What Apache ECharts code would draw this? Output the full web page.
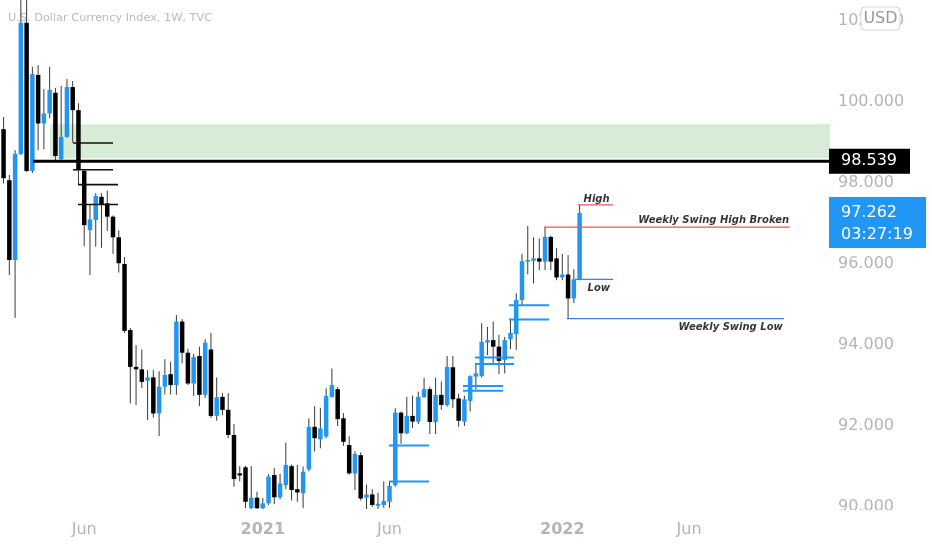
<!DOCTYPE html>
<html><head><meta charset="utf-8">
<script src="https://cdn.jsdelivr.net/npm/echarts@6/dist/echarts.min.js"></script>
<style>html,body{margin:0;padding:0;background:#fff}#c{width:932px;height:550px}</style>
</head><body><div id="c"></div>
<script>
// ---- data ----
const firstWeek = '2020-02-24';
const timeTicks = [['2020-06-01','Jun',false],['2021-01-04','2021',true],['2021-06-07','Jun',false],['2022-01-03','2022',true],['2022-06-06','Jun',false]];
const priceTicks = [90,92,94,96,98,100,102];
const open = [99.33,98.07,96.10,98.72,101.96,98.30,100.67,99.47,99.72,100.23,
98.59,99.14,100.37,99.80,98.30,96.84,97.09,97.66,97.50,97.17,
96.66,96.00,94.37,93.46,93.40,93.12,93.20,92.31,92.97,93.28,
93.01,94.58,93.81,93.05,93.73,92.77,93.89,92.25,92.72,92.40,
91.78,90.83,90.98,89.97,90.23,89.97,90.09,90.79,90.24,90.54,
91.01,90.44,90.34,90.93,91.98,91.67,91.74,92.72,92.91,92.19,
91.53,90.83,91.28,90.23,90.31,90.03,90.05,90.13,90.54,92.33,
91.82,92.25,92.11,92.71,92.91,92.10,92.77,92.52,93.45,92.68,
92.11,92.62,93.22,93.23,94.06,94.12,93.96,93.63,94.14,94.27,
95.11,96.06,96.08,96.14,96.06,96.67,96.14,95.67,95.74,95.15,
95.62];
const close = [98.12,96.10,98.72,101.96,98.30,100.69,99.47,99.72,100.30,98.67,
99.14,100.37,99.80,98.32,96.96,97.10,97.68,97.46,97.17,96.66,
96.02,94.35,93.46,93.40,93.09,93.20,92.31,92.97,93.26,93.01,
94.58,93.81,93.05,93.70,92.77,94.06,92.25,92.71,92.40,91.78,
90.69,90.78,90.13,90.23,89.97,90.09,90.75,90.24,90.58,91.04,
90.42,90.36,90.87,91.98,91.70,91.94,92.74,93.01,92.17,91.61,
90.83,91.31,90.21,90.31,90.05,90.08,90.15,90.52,92.33,91.82,
92.25,92.11,92.72,92.91,92.10,92.77,92.52,93.46,92.66,92.13,
92.66,93.23,93.30,94.08,94.12,93.96,93.61,94.12,94.30,95.11,
96.07,96.10,96.14,96.06,96.67,96.06,95.67,95.74,95.15,95.62,
97.262];
const low = [97.99,95.73,94.67,98.69,98.27,98.25,98.81,98.84,99.60,98.55,
98.57,99.12,99.00,97.96,96.44,95.73,96.43,96.40,96.82,96.25,
95.79,94.30,92.56,92.52,92.94,92.15,92.21,91.75,92.78,92.78,
92.77,93.55,93.01,92.74,92.49,92.70,92.20,92.13,92.27,91.70,
90.50,90.63,89.97,89.80,89.50,89.20,90.05,90.07,90.19,90.44,
90.16,90.13,89.97,90.88,91.37,91.45,91.70,92.70,92.00,91.51,
90.80,90.42,90.16,89.95,90.00,89.70,89.98,89.98,90.50,91.56,
91.80,91.95,92.05,92.70,91.80,91.80,92.40,92.48,92.45,91.98,
92.00,92.36,92.90,93.20,93.75,93.51,93.28,93.30,93.90,93.88,
94.99,95.75,95.52,95.85,95.85,95.85,95.60,95.60,94.65,95.04,
95.60];
const high = [99.63,98.20,98.81,102.99,102.80,100.87,100.91,100.32,100.87,100.35,
100.40,100.57,100.52,99.97,98.32,97.46,97.75,97.75,97.81,97.20,
96.83,96.17,94.42,94.00,93.89,93.38,93.38,93.35,93.65,93.59,
94.74,94.64,93.91,93.78,93.96,94.14,94.30,93.20,92.81,92.81,
92.05,91.01,91.02,91.01,90.38,90.22,90.81,90.96,90.82,91.59,
91.05,91.04,91.00,92.19,92.49,92.45,92.93,93.42,92.96,92.32,
91.75,91.38,91.35,90.55,90.44,90.35,90.63,90.63,92.44,92.36,
92.72,92.75,92.85,93.19,92.97,93.19,93.10,93.73,93.73,92.80,
92.75,93.25,93.55,94.54,94.45,94.58,94.25,94.20,94.62,95.28,
96.25,96.94,96.66,96.63,96.92,96.70,96.39,96.25,96.22,95.87,
97.46];
// drawings: [price, fromWeek, toWeek]
const zone = {fromWeek: 8.06, low: 98.61, high: 99.45};
const keyLevel = {fromWeek: 5.11, price: 98.539};
const blackRays = [[98.99,12.05,19.0],[98.33,12.05,19.0],[97.96,12.92,19.86],[97.47,12.92,19.86]];
const blueRays = [[94.98,87.75,94.69],[94.63,87.75,94.69],[93.69,81.84,88.61],[93.53,81.84,88.61],
                  [92.99,79.76,86.71],[92.87,79.76,86.71],[91.52,66.91,73.86],[90.63,66.91,73.86]];
const redLevels = [[97.46,99.73,105.8],[96.91,93.82,136.5]];
const lowLevels = [[95.62,99.2,105.8],[94.65,97.8,135.5]];
const notes = [['High',100.6,97.60],['Weekly Swing High Broken',110.1,97.07],['Low',101.3,95.39],['Weekly Swing Low',117.1,94.44]];
const countdown = '03:27:19';
const title = 'U.S. Dollar Currency Index, 1W, TVC';

// ---- chart ----
const BULL = '#2196f3', BEAR = '#000000', WICK = '#3a3a3a';
const FONT = 'DejaVu Sans';
const weekMs = 7 * 864e5;
const weekIndex = d => Math.round((Date.parse(d) - Date.parse(firstWeek)) / weekMs);
const tickIdx = timeTicks.map(t => weekIndex(t[0]));
const tickText = {}; timeTicks.forEach(t => { tickText[weekIndex(t[0])] = t[2] ? '{b|' + t[1] + '}' : t[1]; });
const candles = open.map((o, i) => [i, o, close[i], low[i], high[i]]);
const X_MIN = -0.62, X_MAX = 143.47;

function renderCandle(params, api) {
  const i = api.value(0), o = api.value(1), c = api.value(2), l = api.value(3), h = api.value(4);
  const po = api.coord([i, o]), pc = api.coord([i, c]), pl = api.coord([i, l]), ph = api.coord([i, h]);
  const w = api.size([1, 0])[0] * 0.78;
  const x = po[0];
  const top = Math.min(po[1], pc[1]);
  const hg = Math.max(Math.abs(po[1] - pc[1]), 1.3);
  return {type: 'group', children: [
    {type: 'line', shape: {x1: x, y1: ph[1], x2: x, y2: pl[1]}, style: {stroke: WICK, lineWidth: 1}},
    {type: 'rect', shape: {x: x - w / 2, y: top, width: w, height: hg}, style: {fill: c >= o ? BULL : BEAR}}
  ]};
}

// styles of drawings (kept apart from data)
const segStyles = [
  {stroke: '#000', lineWidth: 3},
  {stroke: '#111', lineWidth: 1.6},
  {stroke: BULL, lineWidth: 2},
  {stroke: '#f0505f', lineWidth: 1.2},
  {stroke: '#3f7de8', lineWidth: 1.2}
];
const segRows = [].concat(
  [[keyLevel.price, keyLevel.fromWeek, X_MAX, 0]],
  blackRays.map(r => [r[0], r[1], r[2], 1]),
  blueRays.map(r => [r[0], r[1], r[2], 2]),
  redLevels.map(r => [r[0], r[1], r[2], 3]),
  lowLevels.map(r => [r[0], r[1], r[2], 4])
);
function renderSeg(params, api) {
  const p = api.value(0), a = api.coord([api.value(1), p]), b = api.coord([api.value(2), p]);
  const s = segStyles[api.value(3)];
  return {type: 'line', shape: {x1: a[0], y1: a[1], x2: b[0], y2: b[1]}, style: {stroke: s.stroke, lineWidth: s.lineWidth}};
}

const chart = echarts.init(document.getElementById('c'), null, {renderer: 'canvas'});
chart.setOption({
  animation: false,
  backgroundColor: '#ffffff',
  title: {text: title, left: 3, top: 8, z: 0,
    textStyle: {fontSize: 11.3, fontWeight: 'normal', color: '#b9bbc2', fontFamily: FONT}},
  grid: {left: 0, right: 102, top: 0, bottom: 41, containLabel: false},
  xAxis: {type: 'value', min: X_MIN, max: X_MAX,
    axisLine: {show: false}, axisTick: {show: false}, splitLine: {show: false},
    axisLabel: {customValues: tickIdx, margin: 13, fontSize: 16, color: '#b2b5be', fontFamily: FONT,
      formatter: v => tickText[Math.round(v)] || '',
      rich: {b: {fontSize: 16, fontWeight: 'bold', color: '#b2b5be', fontFamily: FONT}}}},
  yAxis: {type: 'value', position: 'right', min: 89.951, max: 102.52, scale: true,
    axisLine: {show: false}, axisTick: {show: false}, splitLine: {show: false},
    axisLabel: {customValues: priceTicks, margin: 8, fontSize: 16, color: '#b2b5be', fontFamily: FONT,
      formatter: v => v.toFixed(3)}},
  series: [
    {type: 'custom', name: 'DXY', renderItem: renderCandle, data: candles, clip: true, z: 2,
      encode: {x: 0, y: [1, 2, 3, 4]}},
    {type: 'custom', name: 'drawings', renderItem: renderSeg, data: segRows, clip: true, z: 4, silent: true,
      encode: {x: [1, 2], y: 0},
      markArea: {silent: true, itemStyle: {color: 'rgba(76,175,80,0.23)'},
        data: [[{coord: [zone.fromWeek, zone.high]}, {coord: [X_MAX, zone.low]}]]}},
    {type: 'scatter', silent: true, z: 5, symbolSize: 1, itemStyle: {color: 'rgba(0,0,0,0)'},
      data: notes.map(n => ({name: n[0], value: [n[1], n[2]]})),
      label: {show: true, position: 'right', distance: 0, formatter: '{b}', fontSize: 10,
        fontStyle: 'italic', fontWeight: 'bold', color: '#000', fontFamily: FONT}}
  ]
});

const yKey = chart.convertToPixel({yAxisIndex: 0}, keyLevel.price);
const lastPrice = close[close.length - 1];
const yLast = chart.convertToPixel({yAxisIndex: 0}, lastPrice);
const txt = (t, x, y, fill, extra) => Object.assign({type: 'text', x: x, y: y, z: 100,
  style: Object.assign({text: t, fill: fill, font: '16px "' + FONT + '"', verticalAlign: 'middle', align: 'left'}, extra || {})});
chart.setOption({graphic: [
  {type: 'rect', z: 90, shape: {x: 830, y: 510, width: 102, height: 40}, style: {fill: '#fff'}},
  {type: 'rect', z: 95, shape: {x: 829, y: yKey - 12.5, width: 81, height: 25}, style: {fill: '#000'}},
  txt(keyLevel.price.toFixed(3), 841, yKey, '#fff'),
  {type: 'rect', z: 95, shape: {x: 829, y: yLast - 16, width: 97, height: 51}, style: {fill: BULL}},
  txt(lastPrice.toFixed(3), 841, yLast, '#fff'),
  txt(countdown, 841, yLast + 22, '#fff'),
  {type: 'rect', z: 95, shape: {x: 861, y: 7, width: 39, height: 23, r: 4}, style: {fill: '#fff', stroke: '#d1d4dc', lineWidth: 1}},
  txt('USD', 880.5, 18.5, '#9598a1', {align: 'center'})
]});
</script></body></html>
